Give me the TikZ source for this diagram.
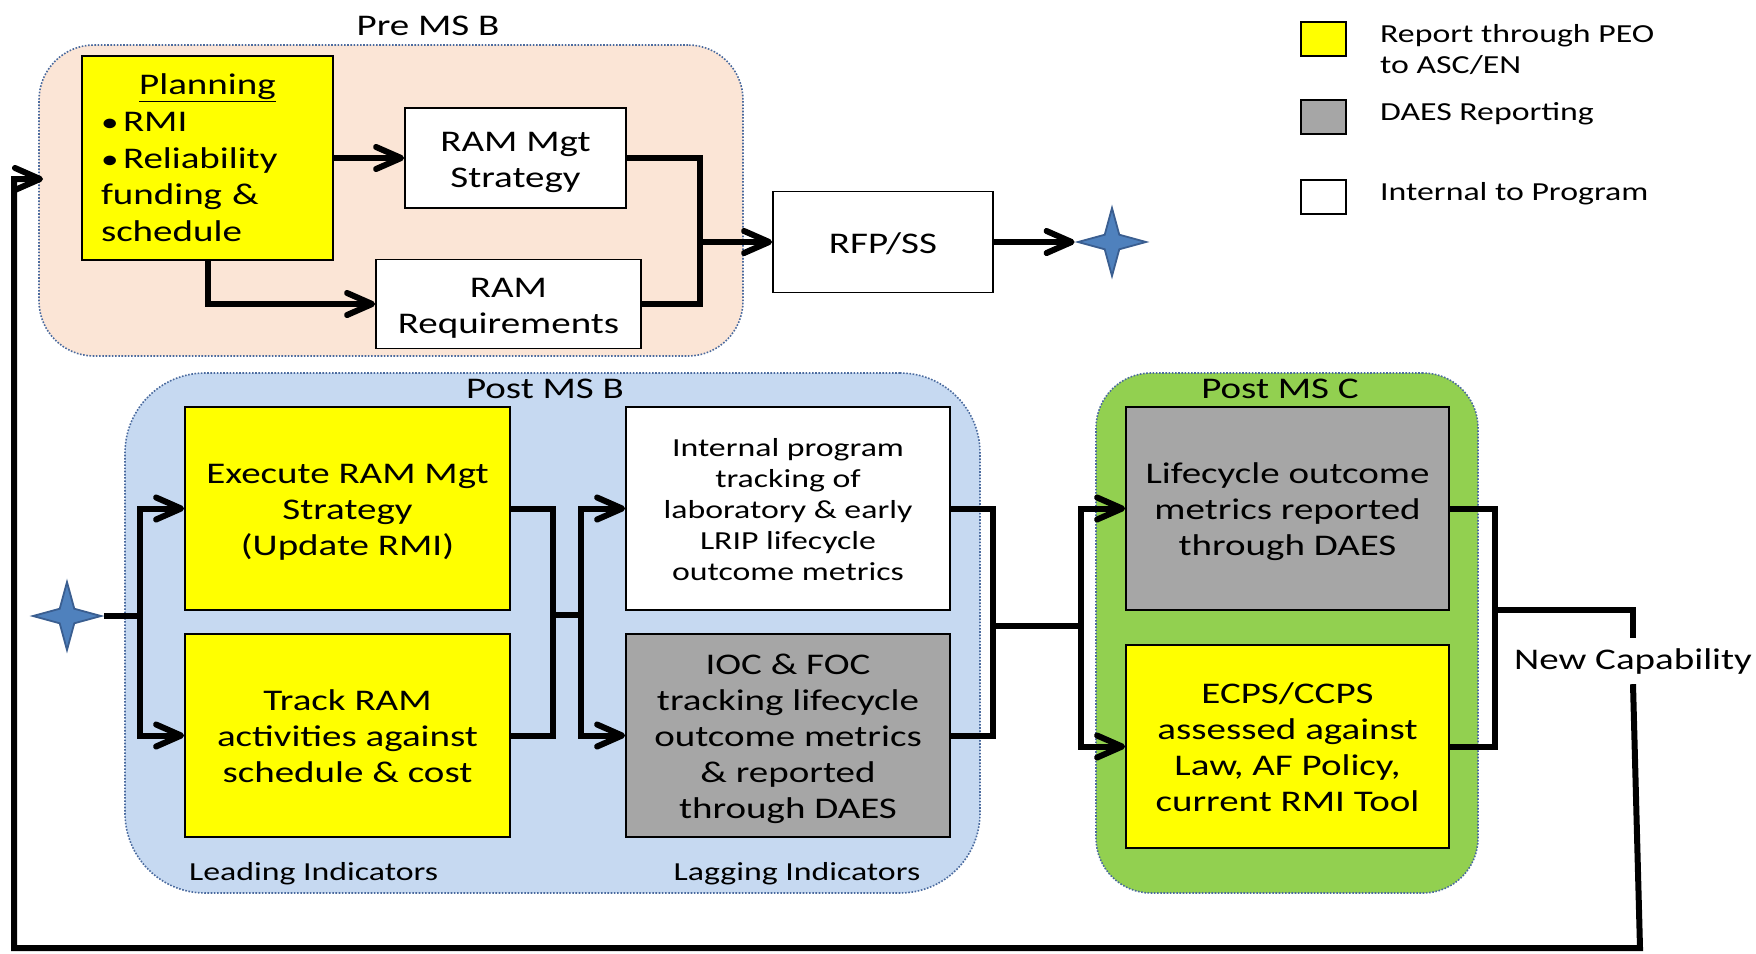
\documentclass[tikz,border=0pt]{standalone}
\usepackage{graphicx}
\usepackage{fontspec}
\setmainfont{Carlito}[FakeStretch=1.3]
\usetikzlibrary{arrows.meta,shapes.geometric}
\definecolor{ylw}{HTML}{FFFF00}
\definecolor{gry}{HTML}{A6A6A6}
\definecolor{peach}{HTML}{FBE5D6}
\definecolor{lblue}{HTML}{C6D9F1}
\definecolor{lgreen}{HTML}{92D050}
\definecolor{dotc}{HTML}{4A6A9E}
\definecolor{starf}{HTML}{4F81BD}
\definecolor{stard}{HTML}{3A5E90}
\newcommand{\bul}{\makebox[22pt][l]{\scalebox{0.9}{•}}}
\newcommand{\topst}{\rule{0pt}{33pt}}
\newcommand{\topsm}{\rule{0pt}{28.5pt}}
\newcommand{\toppl}{\rule{0pt}{31pt}}
\begin{document}
\begin{tikzpicture}[x=1pt,y=-1pt,
  cont/.style={draw=dotc, line width=1.6pt, dash pattern=on 1.6pt off 1.6pt, inner sep=0pt},
  box/.style={draw, line width=1.8pt, inner sep=0pt, align=center, font=\fontsize{30}{36}\selectfont,
    execute at end node={\rule[-11pt]{0pt}{11pt}}},
  sbox/.style={draw, line width=1.8pt, inner sep=0pt, align=center, font=\fontsize{26}{31}\selectfont,
    execute at end node={\rule[-9.5pt]{0pt}{9.5pt}}},
  ttl/.style={inner sep=0pt, font=\fontsize{30}{36}\selectfont},
  lgt/.style={inner sep=0pt, align=left, anchor=west, font=\fontsize{26}{31}\selectfont},
  lsq/.style={draw, line width=1.8pt, minimum width=45pt, minimum height=34pt, inner sep=0pt},
  conn/.style={line width=6pt},
  arr/.style={conn, -{Straight Barb[length=25pt,width=22pt,round]}},
  spark/.style={star, star points=4, star point ratio=3.3, minimum size=68pt, inner sep=0pt,
    fill=starf, draw=stard, line width=1.8pt}
]
\useasboundingbox (0,0) rectangle (1756,953);

% containers
\node[cont, fill=peach, rounded corners=55pt, minimum width=704pt, minimum height=311pt] (pre) at (391,200.5) {};
\node[cont, fill=lblue, rounded corners=80pt, minimum width=855pt, minimum height=520pt] (postb) at (552.5,633) {};
\node[cont, fill=lgreen, rounded corners=55pt, minimum width=382pt, minimum height=520pt] (postc) at (1287,633) {};

\node[ttl] (tpre) at (428,26) {Pre MS B};
\node[ttl] (tpostb) at (545,389) {Post MS B};
\node[ttl] (tpostc) at (1280,389) {Post MS C};

% Pre MS B boxes
\node[box, fill=ylw, minimum width=251pt, minimum height=204pt, text width=213pt, align=left,
      font=\fontsize{30}{36.6}\selectfont] (plan) at (207.5,158)
  {\toppl\makebox[213pt][c]{\underline{Planning}}\\\bul RMI\\\bul Reliability\\funding \&\\schedule};
\node[box, fill=white, minimum width=221pt, minimum height=100pt] (ramm) at (515.5,158) {\topst RAM Mgt\\Strategy};
\node[box, fill=white, minimum width=265pt, minimum height=89pt] (ramr) at (508.5,304) {\topst RAM\\Requirements};
\node[box, fill=white, minimum width=220pt, minimum height=101pt] (rfp) at (883,242) {\topst RFP/SS};
\node[spark] (star1) at (1112,242) {};

% legend
\node[lsq, fill=ylw] (lg1) at (1323.5,39) {};
\node[lsq, fill=gry] (lg2) at (1323.5,117) {};
\node[lsq, fill=white] (lg3) at (1323.5,197) {};
\node[lgt] (lt1) at (1380,50) {Report through PEO\\to ASC/EN};
\node[lgt] (lt2) at (1380,114) {DAES Reporting};
\node[lgt] (lt3) at (1380,194) {Internal to Program};

% Post MS B boxes
\node[box, fill=ylw, minimum width=325pt, minimum height=203pt] (exec) at (347.5,508.5) {\topst Execute RAM Mgt\\Strategy\\(Update RMI)};
\node[box, fill=ylw, minimum width=325pt, minimum height=203pt] (track) at (347.5,735.5) {\topst Track RAM\\activities against\\schedule \& cost};
\node[sbox, fill=white, minimum width=324pt, minimum height=203pt] (intl) at (788,508.5) {\topsm Internal program\\tracking of\\laboratory \& early\\LRIP lifecycle\\outcome metrics};
\node[box, fill=gry, minimum width=324pt, minimum height=203pt] (ioc) at (788,735.5) {\topst IOC \& FOC\\tracking lifecycle\\outcome metrics\\\& reported\\through DAES};
\node[spark] (star2) at (67,616) {};
\node[lgt] (lead) at (189,874) {Leading Indicators};
\node[lgt, anchor=center] (lag) at (797,874) {Lagging Indicators};

% Post MS C boxes
\node[box, fill=gry, minimum width=323pt, minimum height=203pt] (life) at (1287.5,508.5) {\topst Lifecycle outcome\\metrics reported\\through DAES};
\node[box, fill=ylw, minimum width=323pt, minimum height=203pt] (ecps) at (1287.5,746.5) {\topst ECPS/CCPS\\assessed against\\Law, AF Policy,\\current RMI Tool};

\node[ttl, minimum height=46pt] (newcap) at (1633,661) {New Capability};

% junction coordinates
\coordinate (j1) at (700,242);
\coordinate (sp1) at (140,616);
\coordinate (j2) at (553,615);
\coordinate (sp2) at (581,615);
\coordinate (j3) at (993,626);
\coordinate (sp3) at (1081,626);
\coordinate (j4) at (1495,610);
\coordinate (fb1) at (1640,948);
\coordinate (fb2) at (14,948);
\coordinate (fb3) at (14,179);
\coordinate (fbin) at (43,179);

% Pre MS B connectors
\draw[arr] (plan.east |- ramm.west) -- (ramm.west);
\draw[arr] (plan.south) |- (ramr.west);
\draw[conn] (ramm.east) -| (j1);
\draw[conn] (ramr.east) -| (j1);
\draw[arr] (j1) -- (rfp.west);
\draw[arr] (rfp.east) -- (star1.west);

% Post MS B connectors
\draw[conn] (star2.east) -- (sp1);
\draw[arr] (sp1) |- (exec.west);
\draw[arr] (sp1) |- (track.west);
\draw[conn] (exec.east) -| (j2);
\draw[conn] (track.east) -| (j2);
\draw[conn] (j2) -- (sp2);
\draw[arr] (sp2) |- (intl.west);
\draw[arr] (sp2) |- (ioc.west);
\draw[conn] (intl.east) -| (j3);
\draw[conn] (ioc.east) -| (j3);
\draw[conn] (j3) -- (sp3);
\draw[arr] (sp3) |- (life.west);
\draw[arr] (sp3) |- (ecps.west);

% Post MS C connectors
\draw[conn] (life.east) -| (j4);
\draw[conn] (ecps.east) -| (j4);
\draw[conn] (j4) -| (newcap.north);
\draw[arr] (newcap.south) -- (fb1) -- (fb2) -- (fb3) -- (fbin);
\end{tikzpicture}
\end{document}
